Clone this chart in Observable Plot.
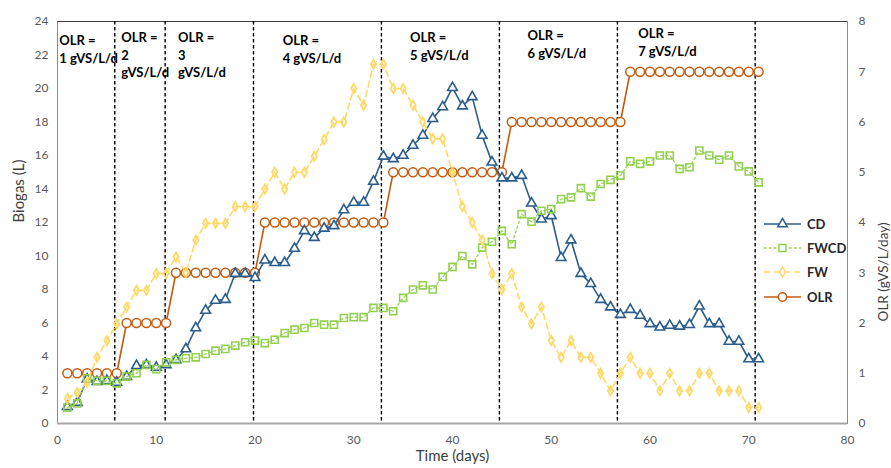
<!DOCTYPE html>
<html>
<head>
<meta charset="utf-8">
<script src="https://cdn.jsdelivr.net/npm/d3@7"></script>
<script src="https://cdn.jsdelivr.net/npm/@observablehq/plot@0.6"></script>
<style>
  html, body { margin: 0; padding: 0; background: white; }
  #wrap { position: relative; width: 891px; height: 468px; }
  #legend { position: absolute; left: 764px; top: 212px; font-family: Lato, "Open Sans", sans-serif; font-size: 13px; font-weight: bold; color: #262626; }
  .row { display: flex; align-items: center; height: 24.2px; }
  .row svg { display: block; }
  .row span { margin-left: 5px; }
</style>
</head>
<body>
<div id="wrap"><div id="legend"></div></div>
<script>
// ---- data ----
const days = d3.range(1, 72);
const cd = [1.0,1.25,2.65,2.5,2.55,2.45,2.8,3.45,3.5,3.35,3.5,3.8,4.45,5.7,6.75,7.35,7.4,8.95,8.95,8.7,
  9.75,9.6,9.6,10.45,11.5,11.1,11.65,11.8,12.75,13.2,13.2,14.45,15.95,
  15.8,16.0,16.6,17.2,18.2,18.9,20.05,18.95,19.5,17.2,15.6,14.65,
  14.65,14.8,13.15,12.2,12.4,9.9,10.95,8.95,8.35,7.4,6.95,6.5,
  6.8,6.45,5.95,5.75,5.85,5.8,5.9,7.0,5.95,5.95,4.9,4.9,3.85,3.85];
const fwcd = [0.95,1.2,2.7,2.55,2.55,2.4,2.8,3.0,3.5,3.25,3.65,3.8,3.9,3.95,4.15,4.35,4.45,4.65,4.85,4.95,
  4.8,5.0,5.4,5.6,5.7,6.0,5.9,5.9,6.3,6.35,6.35,6.9,6.9,
  6.7,7.5,8.0,8.25,8.0,8.75,9.35,10.0,9.5,10.5,10.85,11.5,
  10.7,12.5,12.05,12.7,12.8,13.4,13.5,14.05,13.55,14.3,14.55,14.8,
  15.65,15.5,15.65,16.0,16.0,15.2,15.3,16.3,16.0,15.75,16.0,15.35,15.05,14.4];
const fw = [1.5,1.85,2.45,3.95,4.95,5.95,6.95,7.95,7.95,8.95,8.95,9.95,9.0,10.95,11.95,11.95,11.95,12.95,12.95,12.95,
  14.0,15.0,14.0,15.0,15.0,15.95,16.95,18.0,18.0,20.0,19.0,21.45,21.45,
  20.0,20.0,19.0,18.0,17.0,17.0,15.0,12.95,12.0,10.95,8.95,8.0,
  8.95,6.95,5.95,6.95,4.95,3.95,4.95,3.95,3.95,3.0,1.95,3.0,
  3.95,3.0,3.0,1.95,3.0,1.95,1.95,3.0,3.0,1.95,1.95,1.95,0.95,0.95];
const olr = [1,1,1,1,1,1, 2,2,2,2,2, 3,3,3,3,3,3,3,3,3,
  4,4,4,4,4,4,4,4,4,4,4,4,4, 5,5,5,5,5,5,5,5,5,5,5,5,
  6,6,6,6,6,6,6,6,6,6,6,6, 7,7,7,7,7,7,7,7,7,7,7,7,7,7];
const phaseBounds = [5.8, 10.9, 19.85, 32.8, 44.75, 56.7, 70.65];
const annX = [0.17, 6.45, 12.2, 22.8, 35.7, 47.6, 58.8];
const annY = [23.34, 23.52, 23.52, 23.34, 23.52, 23.64, 23.76];
const annText = ["OLR =\n1 gVS/L/d", "OLR =\n2\ngVS/L/d", "OLR =\n3\ngVS/L/d", "OLR =\n4 gVS/L/d",
  "OLR =\n5 gVS/L/d", "OLR =\n6 gVS/L/d", "OLR =\n7 gVS/L/d"];
const xTicks = [0,10,20,30,40,50,60,70,80];
const yTicks = [0,2,4,6,8,10,12,14,16,18,20,22,24];
const olrTicks = [0,1,2,3,4,5,6,7,8];
const seriesNames = ["CD", "FWCD", "FW", "OLR"];

// ---- build ----
const colors = {CD: "#2b5d8c", FWCD: "#92d050", FW: "#ffd966", OLR: "#c55a11"};
const ratio = 24 / 8;
const rows = days.map((d, i) => ({day: d, cd: cd[i], fwcd: fwcd[i], fw: fw[i], olr: olr[i] * ratio}));
const ann = annX.map((x, i) => ({x, y: annY[i], t: annText[i]}));

const chart = Plot.plot({
  width: 891, height: 468,
  marginLeft: 57, marginRight: 44, marginTop: 21, marginBottom: 45,
  x: {domain: [0, 80]},
  y: {domain: [0, 24]},
  style: {fontFamily: "Lato, 'Open Sans', sans-serif", fontSize: "12px", color: "#595959", background: "white"},
  marks: [
    Plot.frame({stroke: "#8c8c8c"}),
    Plot.ruleY([0], {stroke: "#a6a6a6", strokeWidth: 2}),
    Plot.ruleY([24], {stroke: "#404040", strokeWidth: 1}),
    Plot.axisX({ticks: xTicks, tickSize: 0, tickPadding: 12, label: null, fontSize: 12}),
    Plot.axisY({ticks: yTicks, tickSize: 0, tickPadding: 9, label: null, fontSize: 12}),
    Plot.axisY({anchor: "right", ticks: olrTicks.map(v => v * ratio), tickFormat: d => d / ratio, tickSize: 0, tickPadding: 11, label: null, fontSize: 12}),
    Plot.ruleX(phaseBounds, {stroke: "black", strokeWidth: 1.4, strokeDasharray: "3.5,2.5"}),
    // OLR
    Plot.line(rows, {x: "day", y: "olr", stroke: colors.OLR, strokeWidth: 1.6}),
    Plot.dot(rows, {x: "day", y: "olr", symbol: "circle", r: 4.5, stroke: colors.OLR, strokeWidth: 1.5, fill: "white"}),
    // CD
    Plot.line(rows, {x: "day", y: "cd", stroke: colors.CD, strokeWidth: 1.6}),
    Plot.dot(rows, {x: "day", y: "cd", symbol: "triangle", r: 3.6, stroke: colors.CD, strokeWidth: 1.6, fill: "white"}),
    // FWCD
    Plot.line(rows, {x: "day", y: "fwcd", stroke: colors.FWCD, strokeWidth: 1.2, strokeDasharray: "2.5,2.5"}),
    Plot.dot(rows, {x: "day", y: "fwcd", symbol: "square", r: 4, stroke: colors.FWCD, strokeWidth: 1.6, fill: "none"}),
    // FW
    Plot.line(rows, {x: "day", y: "fw", stroke: colors.FW, strokeWidth: 1.6, strokeDasharray: "6,4"}),
    Plot.dot(rows, {x: "day", y: "fw", symbol: "diamond", r: 2.8, stroke: colors.FW, strokeWidth: 1.8, fill: "none"}),
    // annotations
    Plot.text(ann, {x: "x", y: "y", text: "t", textAnchor: "start", lineAnchor: "top", lineHeight: 1.35,
      fontWeight: "bold", fontSize: 13, fill: "black"}),
    // axis titles
    Plot.text(["Biogas (L)"], {frameAnchor: "left", dx: -38, rotate: -90, fontSize: 15, fill: "#404040"}),
    Plot.text(["OLR (gVS/L/day)"], {frameAnchor: "right", dx: 36, rotate: -90, fontSize: 13.5, fill: "#404040"}),
    Plot.text(["Time (days)"], {frameAnchor: "bottom", dy: 37, fontSize: 15, fill: "#404040"})
  ]
});
document.getElementById("wrap").prepend(chart);

// legend
const leg = d3.select("#legend");
const legendStyle = {
  CD: {dash: null, sym: "triangle"},
  FWCD: {dash: "2.5,2.5", sym: "square"},
  FW: {dash: "6,4", sym: "diamond"},
  OLR: {dash: null, sym: "circle"}
};
seriesNames.forEach(name => {
  const row = leg.append("div").attr("class", "row");
  const svg = row.append("svg").attr("width", 38).attr("height", 14);
  svg.append("line").attr("x1", 0).attr("x2", 37).attr("y1", 7).attr("y2", 7)
    .attr("stroke", colors[name]).attr("stroke-width", 1.6)
    .attr("stroke-dasharray", legendStyle[name].dash);
  const symMap = {triangle: d3.symbolTriangle, square: d3.symbolSquare, diamond: d3.symbolDiamond, circle: d3.symbolCircle};
  const size = {triangle: 40, square: 50, diamond: 30, circle: 55}[legendStyle[name].sym];
  svg.append("path").attr("d", d3.symbol(symMap[legendStyle[name].sym], size)())
    .attr("transform", "translate(18.5,7)")
    .attr("fill", "white").attr("stroke", colors[name]).attr("stroke-width", 1.5);
  row.append("span").text(name);
});
</script>
</body>
</html>
